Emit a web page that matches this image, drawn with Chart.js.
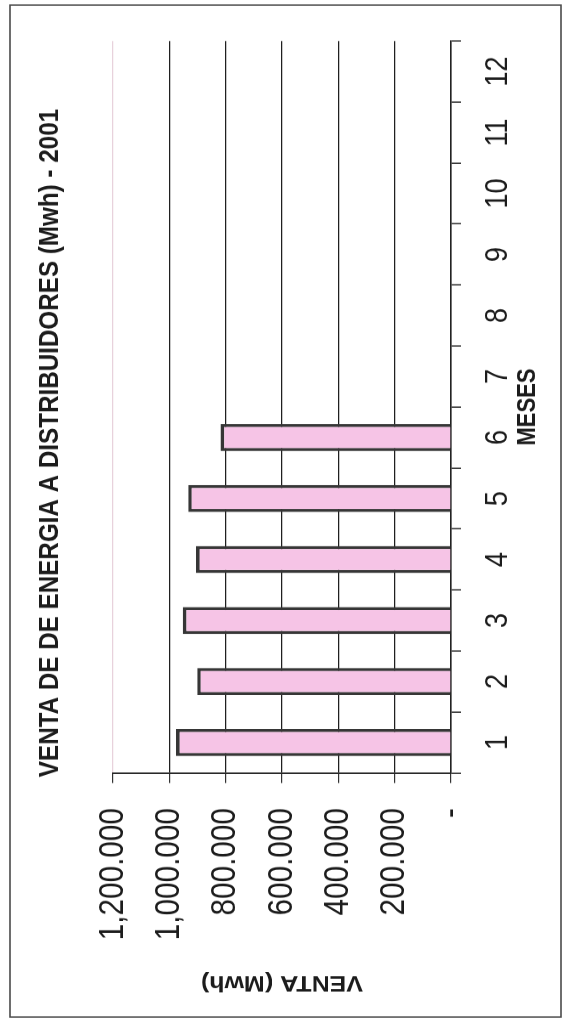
<!DOCTYPE html>
<html>
<head>
<meta charset="utf-8">
<script src="https://cdn.jsdelivr.net/npm/chart.js@4.4.1/dist/chart.umd.min.js"></script>
<style>
  html, body { margin: 0; padding: 0; background: #ffffff; overflow: hidden; width: 567px; height: 1023px; }
  #wrap {
    position: absolute; left: 0; top: 0;
    width: 1204px; height: 567px;
    transform-origin: 0 0;
    transform: translate(0px, 1023px) rotate(-90deg) scaleX(0.84967);
  }
</style>
</head>
<body>
<div id="wrap"><canvas id="c" width="1204" height="567"></canvas></div>
<script>
// ---- data ----
const months = ['1','2','3','4','5','6','7','8','9','10','11','12'];
const ventas = [976000, 901000, 952000, 905000, 933000, 818000, null, null, null, null, null, null];
const yTickLabels = ['-', '200.000', '400.000', '600.000', '800.000', '1,000.000', '1,200.000'];
const chartTitle = 'VENTA DE DE ENERGIA A DISTRIBUIDORES (Mwh) - 2001';
const xTitle = 'MESES';
const yTitle = 'VENTA (Mwh)';

const FONT = '"Liberation Sans", Arial, Helvetica, sans-serif';
const INK = '#1c1c1c';
const LIGHT = '#e8d2dc';

const framePlugin = {
  id: 'frame',
  beforeDraw(chart) {
    const ctx = chart.ctx;
    ctx.save();
    ctx.fillStyle = '#ffffff';
    ctx.fillRect(0, 0, chart.width, chart.height);
    ctx.strokeStyle = '#4a4a4a';
    ctx.lineWidth = 1.6;
    ctx.strokeRect(7, 10, 1191, 551);
    ctx.restore();
  },
  afterDraw(chart) {
    const ctx = chart.ctx;
    ctx.save();
    ctx.font = 'bold 28.5px ' + FONT;
    ctx.fillStyle = INK;
    ctx.textAlign = 'center';
    ctx.textBaseline = 'middle';
    ctx.fillText(chartTitle, 682.6, 50);
    ctx.restore();
  }
};

new Chart(document.getElementById('c'), {
  type: 'bar',
  data: {
    labels: months,
    datasets: [{
      data: ventas,
      backgroundColor: '#f6c4e6',
      borderColor: '#363636',
      borderWidth: 3.6,
      categoryPercentage: 1.0,
      barPercentage: 0.443
    }]
  },
  options: {
    responsive: false,
    animation: false,
    devicePixelRatio: 1,
    layout: { padding: { left: 20, right: 48.3, top: 113, bottom: 0 } },
    plugins: { legend: { display: false }, tooltip: { enabled: false }, title: { display: false } },
    scales: {
      x: {
        offset: true,
        afterFit(s) { s.height = 116; },
        grid: {
          offset: true,
          drawOnChartArea: true,
          color: (c) => (c.index === months.length ? LIGHT : 'rgba(0,0,0,0)'),
          lineWidth: 1.6,
          tickColor: '#333333',
          tickLength: 10,
          drawTicks: true
        },
        border: { display: true, color: '#222222', width: 1.5 },
        ticks: {
          color: INK,
          font: { family: FONT, size: 32 },
          padding: 17.8,
          maxRotation: 0,
          autoSkip: false
        },
        title: {
          display: true,
          text: xTitle,
          color: INK,
          font: { family: FONT, size: 26, weight: 'bold' },
          padding: { top: 0, bottom: 23.9 }
        }
      },
      y: {
        min: 0,
        max: 1200000,
        afterFit(s) { s.width = 274.2; },
        grid: {
          color: (c) => (c.tick && c.tick.value === 1200000 ? LIGHT : '#202020'),
          lineWidth: 1.2,
          tickColor: '#333333',
          tickLength: 11.8,
          drawTicks: true
        },
        border: { display: true, color: '#222222', width: 1.8 },
        ticks: {
          stepSize: 200000,
          color: INK,
          font: { family: FONT, size: 35 },
          padding: 29.4,
          callback: (v, i) => yTickLabels[i]
        },
        title: {
          display: true,
          text: yTitle,
          color: INK,
          font: { family: FONT, size: 25, weight: 'bold' },
          padding: { top: 13.3, bottom: 0 }
        }
      }
    }
  },
  plugins: [framePlugin]
});
</script>
</body>
</html>
